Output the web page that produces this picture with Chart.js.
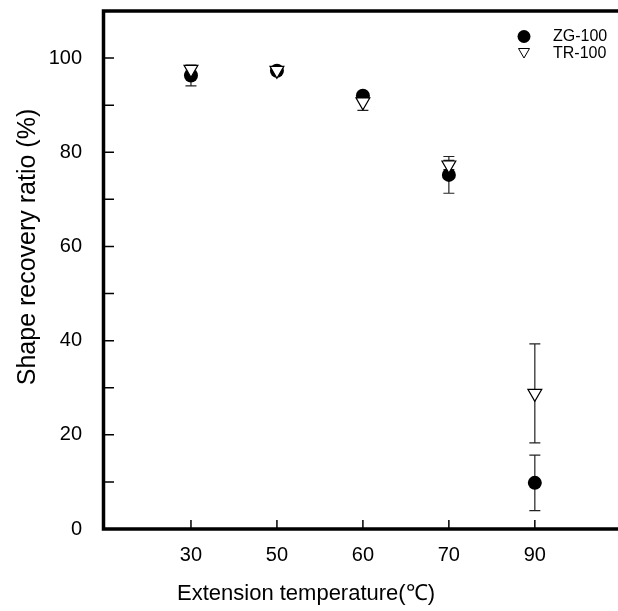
<!DOCTYPE html>
<html>
<head>
<meta charset="utf-8">
<script src="https://cdn.jsdelivr.net/npm/chart.js@4"></script>
<style>
  html, body { margin: 0; padding: 0; background: #fff; overflow: hidden; }
  #wrap { width: 630px; height: 611px; }
</style>
</head>
<body>
<div id="wrap"><canvas id="recoveryChart" width="630" height="611"></canvas></div>
<script>
// data
const temps = ['30', '50', '60', '70', '90'];
const zgValues = [96.3, 97.3, 92.0, 75.2, 9.8];
const zgErrors = [2.2, 0.4, 0.5, 3.9, 5.9];
const trValues = [97.6, 97.4, 90.7, 77.3, 28.8];
const trErrors = [0.4, 0.4, 1.8, 1.0, 10.5];
const yTicks = [0, 20, 40, 60, 80, 100];
const yMinorTicks = [10, 30, 50, 70, 90];

const FONT = '"Liberation Sans", Arial, sans-serif';

function toPoints(values) {
    return values.map((v, i) => ({x: i, y: v}));
}

// error bars, frame, inward ticks, legend and axis titles
const decorations = {
    id: 'decorations',
    beforeDatasetsDraw(chart) {
        const ctx = chart.ctx;
        const xs = chart.scales.x;
        const ys = chart.scales.y;
        const sets = [[zgValues, zgErrors], [trValues, trErrors]];
        ctx.save();
        ctx.strokeStyle = '#222';
        ctx.lineWidth = 1.2;
        sets.forEach(([vals, errs]) => {
            vals.forEach((v, i) => {
                const px = xs.getPixelForValue(i);
                const top = ys.getPixelForValue(v + errs[i]);
                const bot = ys.getPixelForValue(v - errs[i]);
                ctx.beginPath();
                ctx.moveTo(px, top); ctx.lineTo(px, bot);
                ctx.moveTo(px - 5.5, top); ctx.lineTo(px + 5.5, top);
                ctx.moveTo(px - 5.5, bot); ctx.lineTo(px + 5.5, bot);
                ctx.stroke();
            });
        });
        ctx.restore();
    },
    afterDraw(chart) {
        const ctx = chart.ctx;
        const area = chart.chartArea;
        const xs = chart.scales.x;
        const ys = chart.scales.y;
        ctx.save();

        // ticks pointing into the plot
        ctx.strokeStyle = '#000';
        ctx.lineWidth = 1.5;
        ctx.beginPath();
        yTicks.concat(yMinorTicks).forEach(v => {
            const py = ys.getPixelForValue(v);
            ctx.moveTo(area.left, py);
            ctx.lineTo(area.left + 9, py);
        });
        temps.forEach((t, i) => {
            const px = xs.getPixelForValue(i);
            ctx.moveTo(px, area.bottom);
            ctx.lineTo(px, area.bottom - 9);
        });
        ctx.stroke();

        // frame
        ctx.lineWidth = 3.5;
        ctx.beginPath();
        ctx.moveTo(area.right, area.top);
        ctx.lineTo(area.left - 1.5, area.top);
        ctx.lineTo(area.left - 1.5, area.bottom);
        ctx.lineTo(area.right, area.bottom);
        ctx.lineTo(area.right, area.top);
        ctx.stroke();

        // legend
        const lx = 524;
        const ly = area.top + 25.5;
        ctx.fillStyle = '#000';
        ctx.beginPath();
        ctx.arc(lx, ly, 6.5, 0, Math.PI * 2);
        ctx.fill();
        ctx.lineWidth = 1;
        ctx.beginPath();
        ctx.moveTo(lx - 5.5, ly + 12);
        ctx.lineTo(lx + 5.5, ly + 12);
        ctx.lineTo(lx, ly + 21.5);
        ctx.closePath();
        ctx.stroke();
        ctx.font = '16px ' + FONT;
        ctx.textBaseline = 'middle';
        ctx.textAlign = 'left';
        ctx.fillText('ZG-100', 553, ly);
        ctx.fillText('TR-100', 553, ly + 17);

        // axis titles
        ctx.font = '22px ' + FONT;
        ctx.textAlign = 'center';
        ctx.fillText('Extension temperature(\u2103)', 306, 594);
        ctx.font = '25px ' + FONT;
        ctx.translate(28, 247);
        ctx.rotate(-Math.PI / 2);
        ctx.fillText('Shape recovery ratio (%)', 0, 0);
        ctx.restore();
    }
};

const ctx = document.getElementById('recoveryChart').getContext('2d');

new Chart(ctx, {
    type: 'scatter',
    data: {
        datasets: [
            {
                label: 'ZG-100',
                data: toPoints(zgValues),
                pointStyle: 'circle',
                pointRadius: 7,
                backgroundColor: '#000',
                borderColor: '#000',
                borderWidth: 0,
                order: 1
            },
            {
                label: 'TR-100',
                data: toPoints(trValues),
                pointStyle: 'triangle',
                rotation: 180,
                pointRadius: 8,
                backgroundColor: '#fff',
                borderColor: '#000',
                borderWidth: 1.2,
                order: 0
            }
        ]
    },
    options: {
        responsive: false,
        animation: false,
        devicePixelRatio: 1,
        layout: {padding: {top: 11, right: 6, left: 0, bottom: 0}},
        plugins: {
            legend: {display: false},
            tooltip: {enabled: false}
        },
        scales: {
            x: {
                type: 'linear',
                min: -1,
                max: 5,
                afterBuildTicks: s => { s.ticks = temps.map((t, i) => ({value: i})); },
                afterFit: s => { s.height = 82; s.paddingLeft = 0; s.paddingRight = 0; },
                grid: {display: false},
                border: {display: false},
                ticks: {
                    callback: v => temps[v],
                    color: '#000',
                    font: {family: FONT, size: 20},
                    padding: 6,
                    maxRotation: 0
                }
            },
            y: {
                min: 0,
                max: 110,
                afterBuildTicks: s => { s.ticks = yTicks.map(v => ({value: v})); },
                afterFit: s => { s.width = 105; s.paddingTop = 0; s.paddingBottom = 0; },
                grid: {display: false},
                border: {display: false},
                ticks: {
                    color: '#000',
                    font: {family: FONT, size: 20},
                    padding: 15
                }
            }
        }
    },
    plugins: [decorations]
});
</script>
</body>
</html>
